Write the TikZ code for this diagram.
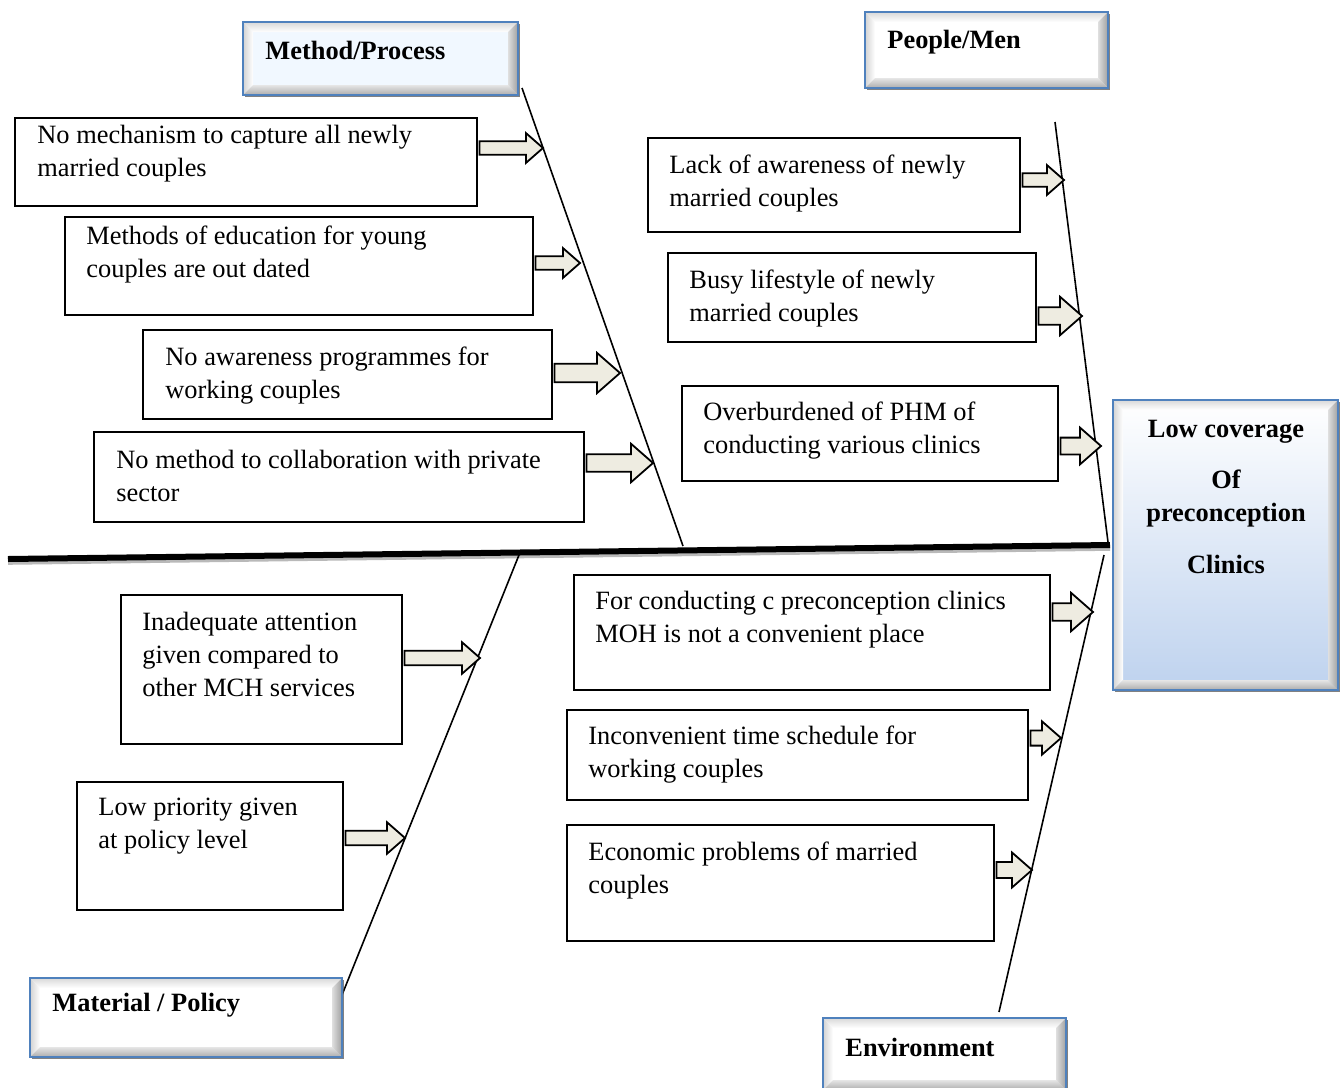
\documentclass[tikz,border=0pt]{standalone}
\usepackage{fontspec}
\setmainfont{Liberation Serif}
\usepackage{tikz}
\usetikzlibrary{fit,calc,shadows}

\definecolor{headblue}{RGB}{79,129,189}
\definecolor{effblue}{RGB}{190,210,238}
\definecolor{mpfill}{RGB}{241,248,255}
\definecolor{arrowtan}{RGB}{238,236,225}

\newcommand{\causearrow}[3]{%
  \draw[arrowbox] let \p1=(#1), \p2=(#2) in
    (\x1+0.8pt,\y2+#3*4pt) -- (\x2-#3*10pt,\y2+#3*4pt) -- (\x2-#3*10pt,\y2+#3*8.75pt) -- (\x2,\y2)
    -- (\x2-#3*10pt,\y2-#3*8.75pt) -- (\x2-#3*10pt,\y2-#3*4pt) -- (\x1+0.8pt,\y2-#3*4pt) -- cycle;}

\newcommand{\bevelsides}{%
  \path (path picture bounding box.north west) coordinate (bv1)
        (path picture bounding box.north east) coordinate (bv2)
        (path picture bounding box.south east) coordinate (bv3)
        (path picture bounding box.south west) coordinate (bv4);
  \shade[top color=gray!30,bottom color=white!0] (bv1) -- (bv2) -- ([shift={(-5pt,-5pt)}]bv2) -- ([shift={(5pt,-5pt)}]bv1) -- cycle;
  \shade[left color=gray!35,right color=white] (bv1) -- ([shift={(5pt,-5pt)}]bv1) -- ([shift={(5pt,5pt)}]bv4) -- (bv4) -- cycle;
  \shade[top color=gray!20,bottom color=gray!65] ([shift={(5pt,5pt)}]bv4) -- ([shift={(-5pt,5pt)}]bv3) -- (bv3) -- (bv4) -- cycle;
  \shade[left color=gray!25,right color=gray!75] ([shift={(-5pt,-5pt)}]bv2) -- (bv2) -- (bv3) -- ([shift={(-5pt,5pt)}]bv3) -- cycle;
}

\begin{document}
\begin{tikzpicture}
	 [x=0.5pt,y=-0.5pt,every node/.style={inner sep=0pt},
	  causebox/.style={draw=black,line width=0.9pt,fill=white},
	  causetext/.style={anchor=north west,align=left,font=\fontsize{13.2pt}{16.5pt}\selectfont},
	  headbox/.style={draw=headblue,line width=1.2pt,fill=white,path picture={\bevelsides},
	    drop shadow={shadow xshift=1.2pt,shadow yshift=-1.2pt,fill=black!70,opacity=0.7}},
	  headtext/.style={anchor=west,font=\fontsize{13.2pt}{16.5pt}\selectfont\bfseries},
	  bone/.style={line width=0.8pt},
	  arrowbox/.style={draw=black,line width=0.9pt,fill=arrowtan,line join=miter}]

  \useasboundingbox (0,0) rectangle (1341,1088);

  % spine and bones
  \coordinate (sl) at (8,559);
  \coordinate (sr) at (1110,545);
  \coordinate (mtop) at (522,88);
  \coordinate (mbot) at (683,546);
  \coordinate (ptop) at (1055,122);
  \coordinate (pbot) at (1108,542);
  \coordinate (ltop) at (519,555);
  \coordinate (lbot) at (342,995);
  \coordinate (etop) at (1104,555);
  \coordinate (ebot) at (999,1012);

  \draw[gray!55,line width=3.4pt] ([yshift=-1.2pt]sl) -- ([yshift=-1.2pt]sr);
  \draw[line width=3pt] (sl) -- (sr);
  \foreach \from/\to in {mtop/mbot,ptop/pbot,ltop/lbot,etop/ebot}
    \draw[bone] (\from) -- (\to);

  % category boxes
  \node[headbox,fill=mpfill,fit={(243,22) (518,95)}] (mp) {};
  \node[headbox,fit={(865,12) (1108,88)}] (pm) {};
  \node[headbox,fit={(30,978) (342,1057)}] (mat) {};
  \node[headbox,fit={(823,1018) (1066,1090)}] (env) {};
  \node[headtext] (mpt) at (265,50) {Method/Process};
  \node[headtext] (pmt) at (887,42) {People/Men};
  \node[headtext] (matt) at (52,1005) {Material / Policy};
  \node[headtext] (envt) at (845,1047) {Environment};

  % effect
  \node[headbox,top color=white,bottom color=effblue,fit={(1113,400) (1338,690)}] (eff) {};
  \node[anchor=north,align=center,font=\fontsize{13.2pt}{16.5pt}\selectfont\bfseries] (efft) at (1226,420)
    {Low coverage\\[9pt]Of\\preconception\\[9.5pt]Clinics};

  % causes
  \node[causebox,fit={(15,118) (477,206)}] (c1) {};
  \node[causebox,fit={(65,217) (533,315)}] (c2) {};
  \node[causebox,fit={(143,330) (552,419)}] (c3) {};
  \node[causebox,fit={(94,432) (584,522)}] (c4) {};
  \node[causebox,fit={(648,138) (1020,232)}] (c5) {};
  \node[causebox,fit={(668,253) (1036,342)}] (c6) {};
  \node[causebox,fit={(682,386) (1058,481)}] (c7) {};
  \node[causebox,fit={(121,595) (402,744)}] (c8) {};
  \node[causebox,fit={(77,782) (343,910)}] (c9) {};
  \node[causebox,fit={(574,575) (1050,690)}] (c10) {};
  \node[causebox,fit={(567,710) (1028,800)}] (c11) {};
  \node[causebox,fit={(567,825) (994,941)}] (c12) {};

  \node[causetext] (t1) at (37,125) {No mechanism to capture all newly\\married couples};
  \node[causetext] (t2) at (86,226) {Methods of education for young\\couples are out dated};
  \node[causetext] (t3) at (165,347) {No awareness programmes for\\working couples};
  \node[causetext] (t4) at (116,450) {No method to collaboration with private\\sector};
  \node[causetext] (t5) at (669,155) {Lack of awareness of newly\\married couples};
  \node[causetext] (t6) at (689,270) {Busy lifestyle of newly\\married couples};
  \node[causetext] (t7) at (703,402) {Overburdened of PHM of\\conducting various clinics};
  \node[causetext] (t8) at (142,612) {Inadequate attention\\given compared to\\other MCH services};
  \node[causetext] (t9) at (98,798) {Low priority given\\at policy level};
  \node[causetext] (t10) at (595,591) {For conducting c preconception clinics\\MOH is not a convenient place};
  \node[causetext] (t11) at (588,726) {Inconvenient time schedule for\\working couples};
  \node[causetext] (t12) at (588,842) {Economic problems of married\\couples};

  % arrow tips on the bones
  \coordinate (a1) at (543,148);
  \coordinate (a2) at (580,263);
  \coordinate (a3) at (620,373);
  \coordinate (a4) at (653,463);
  \coordinate (a5) at (1064,180);
  \coordinate (a6) at (1082,316);
  \coordinate (a7) at (1101,446);
  \coordinate (a8) at (480,658);
  \coordinate (a9) at (405,838);
  \coordinate (a10) at (1093,612);
  \coordinate (a11) at (1061,738);
  \coordinate (a12) at (1032,870);

  \foreach \from/\to/\s in {c1/a1/0.85,c2/a2/0.85,c3/a3/1.15,c4/a4/1.1,c5/a5/0.85,c6/a6/1.1,
      c7/a7/1.05,c8/a8/0.9,c9/a9/0.9,c10/a10/1.1,c11/a11/0.95,c12/a12/1}
    \causearrow{\from.east}{\to}{\s};

\end{tikzpicture}
\end{document}
